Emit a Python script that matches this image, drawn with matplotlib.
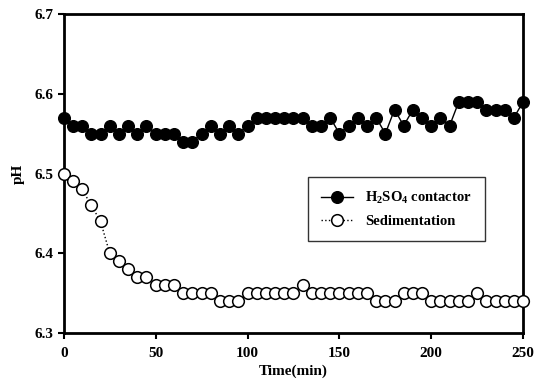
import numpy as np
import matplotlib
matplotlib.use("Agg")
import matplotlib.pyplot as plt

# time axis (min), one reading every 5 min
time_min = list(range(0, 251, 5))

# pH readings
ph_h2so4 = [6.57, 6.56, 6.56, 6.55, 6.55, 6.56, 6.55, 6.56, 6.55, 6.56,
            6.55, 6.55, 6.55, 6.54, 6.54, 6.55, 6.56, 6.55, 6.56, 6.55,
            6.56, 6.57, 6.57, 6.57, 6.57, 6.57, 6.57, 6.56, 6.56, 6.57,
            6.55, 6.56, 6.57, 6.56, 6.57, 6.55, 6.58, 6.56, 6.58, 6.57,
            6.56, 6.57, 6.56, 6.59, 6.59, 6.59, 6.58, 6.58, 6.58, 6.57,
            6.59]
ph_sed = [6.50, 6.49, 6.48, 6.46, 6.44, 6.40, 6.39, 6.38, 6.37, 6.37,
          6.36, 6.36, 6.36, 6.35, 6.35, 6.35, 6.35, 6.34, 6.34, 6.34,
          6.35, 6.35, 6.35, 6.35, 6.35, 6.35, 6.36, 6.35, 6.35, 6.35,
          6.35, 6.35, 6.35, 6.35, 6.34, 6.34, 6.34, 6.35, 6.35, 6.35,
          6.34, 6.34, 6.34, 6.34, 6.34, 6.35, 6.34, 6.34, 6.34, 6.34,
          6.34]

x_ticks = [0, 50, 100, 150, 200, 250]
y_ticks = [6.3, 6.4, 6.5, 6.6, 6.7]

plt.rcParams['font.family'] = ['Liberation Serif', 'DejaVu Serif']
plt.rcParams['font.weight'] = 'bold'
plt.rcParams['mathtext.fontset'] = 'custom'
plt.rcParams['mathtext.bf'] = 'Liberation Serif:bold'
plt.rcParams['mathtext.rm'] = 'Liberation Serif:bold'
plt.rcParams['mathtext.default'] = 'bf'

fig = plt.figure(figsize=(5.36, 3.86), dpi=100)
ax = fig.add_axes([0.119, 0.137, 0.857, 0.827])

ax.plot(time_min, ph_h2so4, '-', color='black', lw=1.0,
        marker='o', ms=8.4, mfc='black', mec='black', mew=1.0,
        label=r'H$_2$SO$_4$ contactor', clip_on=False, zorder=3)
ax.plot(time_min, ph_sed, ':', color='black', lw=1.0,
        marker='o', ms=8.4, mfc='white', mec='black', mew=1.1,
        label='Sedimentation', clip_on=False, zorder=3)

ax.set_xlim(0, 250)
ax.set_ylim(6.3, 6.7)
ax.set_xticks(x_ticks)
ax.set_yticks(y_ticks)
ax.set_yticklabels([f'{v:.1f}' for v in y_ticks])
ax.tick_params(direction='out', length=4, width=1.5, labelsize=11)
ax.tick_params(axis='x', pad=6)
for s in ax.spines.values():
    s.set_linewidth(2)

ax.set_xlabel('Time(min)', fontsize=11, fontweight='bold', labelpad=3)
ax.set_ylabel('pH', fontsize=11, fontweight='bold', labelpad=7)

leg = ax.legend(loc='upper left', bbox_to_anchor=(0.532, 0.49),
                borderaxespad=0, fontsize=10.5, frameon=True, fancybox=False,
                edgecolor='black', handlelength=2.2, borderpad=0.9,
                labelspacing=0.6)
leg.get_frame().set_linewidth(1.0)

fig.savefig('out.png', dpi=100)
